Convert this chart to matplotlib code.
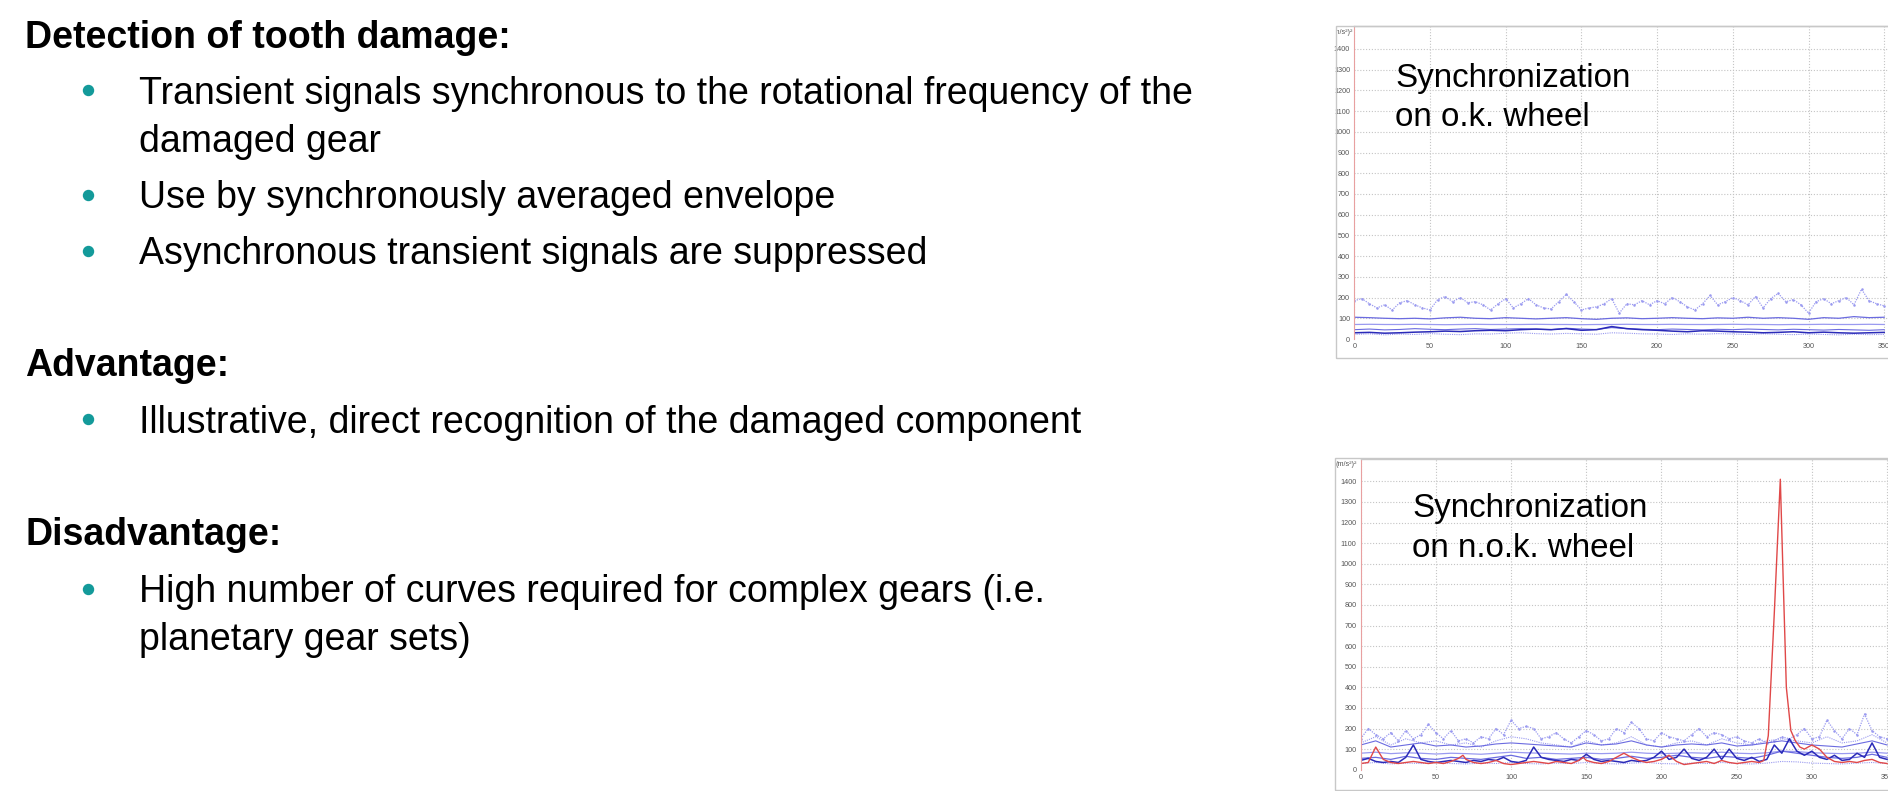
import numpy as np
import matplotlib
matplotlib.use("Agg")
import matplotlib.pyplot as plt
from matplotlib.patches import Rectangle

plt.rcParams['font.family'] = ['Liberation Sans', 'DejaVu Sans']

W, H = 1888, 791

# ---------------- text content ----------------
heading1 = "Detection of tooth damage:"
bullets1 = ["Transient signals synchronous to the rotational frequency of the\ndamaged gear",
            "Use by synchronously averaged envelope",
            "Asynchronous transient signals are suppressed"]
heading2 = "Advantage:"
bullets2 = ["Illustrative, direct recognition of the damaged component"]
heading3 = "Disadvantage:"
bullets3 = ["High number of curves required for complex gears (i.e.\nplanetary gear sets)"]
label_top = ["Synchronization", "on o.k. wheel"]
label_bot = ["Synchronization", "on n.o.k. wheel"]
y_unit = "(m/s²)²"
yticks = [0, 100, 200, 300, 400, 500, 600, 700, 800, 900, 1000, 1100, 1200, 1300, 1400]
xticks = [0, 50, 100, 150, 200, 250, 300, 350]

# ---------------- data: top chart (o.k. wheel) ----------------
top_x5 = np.arange(0, 351, 5)
top_x10 = np.arange(0, 351, 10)
top_dotted = [185, 195, 170, 150, 165, 140, 175, 185, 165, 150,
              140, 190, 205, 180, 200, 175, 180, 165, 140, 170,
              195, 150, 170, 195, 165, 150, 145, 180, 215, 180,
              140, 150, 155, 170, 195, 125, 170, 165, 185, 165,
              185, 170, 200, 180, 155, 140, 170, 210, 165, 180,
              200, 185, 165, 205, 150, 195, 220, 180, 190, 165,
              125, 180, 195, 170, 185, 200, 165, 240, 185, 170,
              160]
top_line100 = [105, 103, 100, 98, 100, 97, 102, 105, 100, 98,
               103, 100, 97, 100, 103, 98, 95, 100, 102, 98,
               100, 103, 100, 98, 102, 100, 105, 100, 103, 100,
               95, 103, 100, 108, 103, 105]
top_line70 = [70, 71, 70, 70, 71, 70, 69, 70, 71, 70,
              70, 70, 71, 70, 70, 69, 70, 70, 71, 70,
              70, 71, 70, 70, 70, 71, 70, 70, 69, 70,
              70, 71, 70, 70, 71, 70]
top_light50 = [45, 48, 44, 46, 50, 47, 45, 48, 50, 46,
               48, 50, 47, 45, 52, 48, 46, 55, 50, 47,
               45, 48, 46, 44, 47, 45, 48, 46, 44, 47,
               45, 43, 46, 44, 42, 45]
top_dark = [30, 32, 28, 30, 33, 35, 38, 36, 40, 42,
            40, 45, 48, 45, 50, 42, 45, 60, 50, 45,
            42, 38, 35, 40, 38, 35, 33, 30, 32, 35,
            30, 33, 30, 28, 30, 32]
top_dotted25 = [22, 25, 20, 24, 22, 26, 23, 21, 25, 24,
                28, 30, 26, 24, 27, 25, 23, 30, 28, 25,
                24, 22, 25, 23, 26, 24, 22, 25, 23, 21,
                24, 22, 20, 23, 21, 22]

# ---------------- data: bottom chart (n.o.k. wheel) ----------------
bot_x5 = np.arange(0, 351, 5)
bot_x10 = np.arange(0, 351, 10)
bot_dotted_hi = [150, 200, 170, 150, 180, 140, 190, 150, 170, 220,
                 180, 150, 190, 140, 150, 130, 160, 150, 200, 170,
                 240, 200, 210, 200, 150, 160, 180, 150, 130, 160,
                 190, 170, 140, 150, 200, 180, 230, 200, 150, 140,
                 180, 160, 150, 140, 170, 200, 160, 180, 170, 150,
                 160, 140, 130, 150, 130, 140, 160, 150, 170, 200,
                 150, 160, 240, 190, 150, 200, 170, 270, 190, 160,
                 150]
bot_dotted_mid = [130, 160, 120, 150, 130, 140, 120, 130, 110, 140,
                  160, 150, 130, 120, 110, 140, 120, 130, 160, 120,
                  110, 130, 140, 120, 150, 130, 120, 140, 150, 140,
                  130, 160, 130, 140, 170, 130]
bot_line120 = [120, 140, 110, 120, 130, 115, 120, 110, 115, 125,
               130, 125, 120, 115, 110, 130, 120, 125, 140, 120,
               110, 120, 125, 120, 130, 115, 120, 130, 140, 130,
               120, 115, 110, 125, 140, 120]
bot_line80 = [80, 85, 78, 82, 80, 76, 80, 78, 75, 80,
              85, 82, 80, 78, 76, 80, 78, 80, 85, 80,
              78, 80, 82, 80, 85, 80, 78, 82, 90, 88,
              82, 80, 78, 80, 85, 80]
bot_mid60 = [55, 60, 50, 65, 55, 50, 60, 55, 50, 60,
             70, 55, 60, 50, 55, 60, 50, 55, 65, 55,
             60, 70, 60, 55, 65, 60, 55, 70, 90, 80,
             70, 60, 55, 60, 75, 60]
bot_dotted_low = [30, 35, 28, 32, 30, 35, 30, 28, 32, 30,
                  35, 30, 28, 32, 30, 35, 30, 28, 32, 35,
                  30, 28, 32, 30, 35, 30, 28, 32, 40, 38,
                  32, 30, 28, 32, 35, 30]
bot_dark = [45, 55, 40, 35, 40, 35, 60, 120, 50, 40,
            35, 40, 45, 40, 35, 45, 40, 50, 45, 60,
            40, 35, 45, 110, 60, 50, 45, 40, 50, 45,
            75, 50, 40, 45, 40, 35, 45, 40, 45, 60,
            90, 50, 60, 100, 55, 45, 60, 100, 50, 100,
            55, 45, 60, 40, 50, 120, 80, 150, 90, 70,
            90, 60, 50, 70, 45, 50, 80, 60, 130, 60,
            50]
red_x = [0, 5, 10, 15, 20, 25, 30, 35, 40, 45, 50, 55, 60, 65, 68,
         70, 75, 80, 85, 90, 95, 100, 105, 110, 115, 120, 125, 130, 135, 140, 145, 148,
         150, 155, 160, 165, 170, 175, 180, 185, 190, 195, 200, 205, 210, 215, 220, 225,
         230, 235, 240, 245, 250, 255, 260, 265, 268, 271, 275, 279, 281, 283, 286, 289,
         292, 295, 300, 305, 310, 315, 320, 325, 330, 335, 340, 345, 350]
red_y = [30, 35, 110, 50, 35, 30, 35, 40, 35, 30, 35, 30, 40, 55, 70,
         50, 35, 30, 35, 45, 30, 25, 30, 35, 40, 35, 30, 40, 35, 30, 45, 60,
         45, 35, 30, 40, 60, 80, 60, 45, 35, 40, 50, 70, 40, 25, 30, 35,
         40, 30, 45, 35, 30, 35, 40, 35, 45, 165, 760, 1410, 900, 400, 190, 140,
         110, 100, 120, 100, 60, 40, 35, 40, 35, 45, 50, 35, 30]

# ---------------- colours ----------------
TEAL = '#139a9a'
C_LIGHT = '#9a9af0'
C_MID = '#6b6be0'
C_DARK = '#2a2ab8'
C_RED = '#e04848'

fig = plt.figure(figsize=(W / 100, H / 100), dpi=100)
fig.patch.set_facecolor('white')


def add_px_axes(l, t, r, b):
    return fig.add_axes([l / W, 1 - b / H, (r - l) / W, (b - t) / H])


def style_chart(ax, xmax, ymax):
    ax.set_xlim(0, xmax)
    ax.set_ylim(0, ymax)
    ax.set_xticks(xticks)
    ax.set_yticks(yticks)
    ax.tick_params(length=0, labelsize=5.2, labelcolor='#555555', pad=3)
    ax.grid(True, color='#c4c4c4', linestyle=(0, (1, 1.6)), linewidth=0.8)
    ax.set_axisbelow(True)
    for s in ['right', 'bottom']:
        ax.spines[s].set_visible(False)
    ax.spines['top'].set_color('#c8c8c8')
    ax.spines['top'].set_linewidth(1)
    ax.spines['left'].set_color('#e8a0a0')
    ax.spines['left'].set_linewidth(0.8)


# frames of the embedded chart pictures
fig.patches.append(Rectangle((1336 / W, 1 - 357.7 / H), (1890 - 1336) / W, (357.7 - 25.7) / H,
                             transform=fig.transFigure, fill=False, edgecolor='#c8c8c8', lw=1))
fig.patches.append(Rectangle((1335 / W, 1 - 790 / H), (1890 - 1335) / W, (790 - 458.3) / H,
                             transform=fig.transFigure, fill=False, edgecolor='#c8c8c8', lw=1))

# ---- top chart ----
ax1 = add_px_axes(1354.3, 26, 1888, 339)
style_chart(ax1, 352.5, 1510.6)
ax1.plot(top_x5, top_dotted, color=C_LIGHT, lw=0.9, ls=(0, (1, 1)), marker='.', ms=1.6)
ax1.plot(top_x10, top_dotted25, color=C_LIGHT, lw=0.8, ls=(0, (1, 1)))
ax1.plot(top_x10, top_line100, color=C_MID, lw=0.9)
ax1.plot(top_x10, top_line70, color=C_LIGHT, lw=0.9)
ax1.plot(top_x10, top_light50, color=C_MID, lw=0.8)
ax1.plot(top_x10, top_dark, color=C_DARK, lw=1.1)

# ---- bottom chart ----
ax2 = add_px_axes(1360.7, 458.5, 1888, 769.7)
style_chart(ax2, 350.6, 1510.7)
ax2.plot(bot_x5, bot_dotted_hi, color=C_LIGHT, lw=0.9, ls=(0, (1, 1)), marker='.', ms=1.6)
ax2.plot(bot_x10, bot_dotted_mid, color=C_LIGHT, lw=0.8, ls=(0, (1, 1)))
ax2.plot(bot_x10, bot_dotted_low, color=C_LIGHT, lw=0.8, ls=(0, (1, 1)))
ax2.plot(bot_x10, bot_line120, color=C_MID, lw=0.8)
ax2.plot(bot_x10, bot_line80, color=C_LIGHT, lw=0.9)
ax2.plot(bot_x10, bot_mid60, color=C_MID, lw=0.9)
ax2.plot(bot_x5, bot_dark, color=C_DARK, lw=1.1)
ax2.plot(red_x, red_y, color=C_RED, lw=1.0)

# ---- overlay for all slide text (pixel coordinates) ----
ov = fig.add_axes([0, 0, 1, 1])
ov.set_xlim(0, W)
ov.set_ylim(H, 0)
ov.axis('off')

FS = 27
ov.text(25, 47.7, heading1, fontsize=FS, fontweight='bold', va='baseline', ha='left')
ov.text(25, 375.5, heading2, fontsize=FS, fontweight='bold', va='baseline', ha='left')
ov.text(25, 545, heading3, fontsize=FS, fontweight='bold', va='baseline', ha='left')

LS = 47.5
bullet_items = [(bullets1[0], 104), (bullets1[1], 208.5), (bullets1[2], 264.5),
                (bullets2[0], 433), (bullets3[0], 602.5)]
for txt, base in bullet_items:
    for i, line in enumerate(txt.split('\n')):
        ov.text(139, base + i * LS, line, fontsize=FS, va='baseline', ha='left')
    ov.plot([88.3], [base - 14], marker='o', ms=7.2, color=TEAL, mec=TEAL)

# labels inside the charts
FS2 = 23.9
ov.text(1395, 86.7, label_top[0], fontsize=FS2, va='baseline', ha='left')
ov.text(1395, 125.5, label_top[1], fontsize=FS2, va='baseline', ha='left')
ov.text(1412.5, 517.5, label_bot[0], fontsize=FS2, va='baseline', ha='left')
ov.text(1412.5, 557, label_bot[1], fontsize=FS2, va='baseline', ha='left')

# y unit labels (top one clipped by its picture frame)
clip1 = Rectangle((1336, 25.7), 60, 40, transform=ov.transData)
t1 = ov.text(1353, 33, y_unit, fontsize=5.2, color='#555555', va='center', ha='right',
             clip_on=True)
t1.set_clip_path(clip1)
ov.text(1357, 465, y_unit, fontsize=5.2, color='#555555', va='center', ha='right')

fig.savefig('out.png', dpi=100, facecolor='white')
